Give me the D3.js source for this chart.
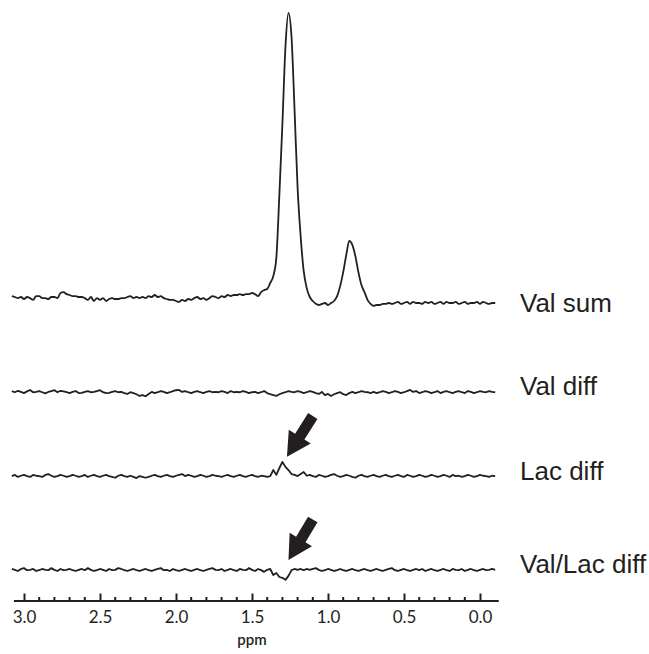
<!DOCTYPE html>
<html>
<head>
<meta charset="utf-8">
<script src="https://cdn.jsdelivr.net/npm/d3@7/dist/d3.min.js"></script>
<style>
  html, body { margin: 0; padding: 0; background: #fff; }
  svg { display: block; }
</style>
</head>
<body>
<script>
// ---------------- DATA ----------------
// chemical-shift grid (ppm): from 3.08 down to -0.10 in 0.02 ppm steps
const ppmStart = 3.08;
const ppmStep = 0.02;

// intensities (normalised so that the Val sum maximum = 100)
const valSum = [
  1.0, 0.7, 0.3, 0.7, 0.0, 0.7, 0.3, -0.3, 1.0, 1.0,
  0.3, 0.3, 0.0, 0.7, 0.7, 0.3, 2.1, 2.4, 1.7, 1.4,
  1.0, 1.0, 0.7, 0.7, 0.3, -0.3, 0.7, -0.7, 0.3, -0.3,
  0.3, -0.7, 0.0, 0.3, 0.0, 0.0, 0.3, 0.3, 0.7, 1.0,
  0.3, 0.7, 0.3, 0.7, 0.3, 1.0, 0.7, 1.4, 0.7, 1.0,
  0.3, 0.0, -0.3, -0.3, -0.7, -1.0, -0.3, -0.7, 0.0, -0.3,
  0.3, 0.7, 0.0, 0.3, -0.3, 0.3, 1.0, 0.7, 0.3, 1.0,
  0.7, 1.4, 1.0, 1.4, 1.4, 1.7, 1.4, 1.7, 1.7, 2.1,
  1.7, 1.0, 2.4, 3.1, 3.5, 5.6, 8.0, 14.3, 36.4, 61.2,
  88.1, 100, 91.6, 66.1, 38.8, 22.0, 9.8, 3.8, 0.7, -0.7,
  -1.7, -2.1, -1.7, -1.4, -2.1, -1.4, -0.7, 1.0, 4.5, 9.4,
  15.4, 20.3, 18.9, 15.0, 9.4, 4.9, 2.4, -0.3, -1.7, -2.4,
  -2.1, -2.1, -1.7, -1.7, -1.4, -1.7, -1.4, -1.0, -1.7, -1.4,
  -1.0, -1.7, -1.0, -1.4, -1.4, -1.7, -1.0, -1.4, -1.0, -1.7,
  -1.4, -1.0, -1.7, -1.0, -1.4, -1.4, -1.0, -1.7, -1.4, -1.0,
  -1.7, -1.4, -1.4, -1.0, -1.7, -1.0, -1.4, -1.7, -1.4, -1.4
];
const valDiff = [
  0.7, 0.3, 0.8, 0.4, 0.0, 0.6, 1.1, 0.3, 0.4, 0.7, 0.3, -0.1, 0.4, 0.7, 1.0, 0.3, 0.8, 0.6, 0.3, 0.0,
  0.4, 0.7, 0.0, 0.1, 0.4, 0.7, 0.3, 0.4, 0.7, 1.0, 0.3, 0.0, 0.1, 0.4, 0.7, 0.3, 0.4, 0.0, -0.3, 0.3,
  0.0, -0.4, -1.0, -0.7, -1.1, -0.3, 0.4, 0.0, 0.3, 0.7, 0.4, 0.0, 0.3, 0.7, 1.0, 1.1, 0.4, 0.7, 0.3, 0.0,
  0.4, 0.7, 0.3, 0.0, 0.4, 0.7, 0.3, 0.4, 0.3, 0.7, 0.4, 0.0, 0.7, 0.3, 0.4, 0.3, 0.7, 0.4, 0.0, 0.3,
  0.4, 0.0, 0.3, 0.7, 0.0, -0.4, -0.7, -1.0, -0.4, 0.0, 0.3, 0.7, 0.4, 0.3, 0.7, 0.4, 0.0, 0.3, 0.7, 0.4,
  0.0, -0.3, 0.4, -0.7, -0.3, -1.0, -0.4, 0.0, 0.3, -0.4, -0.7, 0.0, 0.4, 0.0, 0.3, 0.7, 0.4, 0.3, 0.0, 0.4,
  0.0, 0.3, 0.7, 0.4, 0.0, 0.3, 0.7, 0.4, 0.0, 0.3, 0.7, 1.1, 0.4, 0.7, 0.0, 0.3, 0.7, 0.4, 0.0, 0.3,
  0.7, 0.0, 0.4, 0.7, 0.3, 0.0, 0.4, 0.7, 0.3, 0.0, 0.7, 0.4, 0.0, 0.3, 0.7, 0.4, 0.3, 0.7, 0.4, 0.3
];
const lacDiff = [
  0.3, 0.7, 0.0, 0.4, 0.7, 0.3, 0.0, 0.7, 0.4, 0.3, 0.0, 0.7, 1.0, 0.4, 0.0, 0.3, 0.7, 0.4, 0.0, 0.3,
  0.7, 0.4, 0.0, 0.3, 0.7, 0.0, 0.4, 0.7, 0.3, 0.0, 0.4, 0.7, 0.3, 0.0, -0.3, 0.4, 0.7, 0.3, 0.0, 0.4,
  0.0, -0.4, 0.3, 0.0, -0.3, 0.0, 0.4, 0.7, 0.3, 0.0, 0.4, 0.7, 0.3, 0.0, 0.4, 0.7, 1.0, 0.3, 0.7, 0.4,
  0.0, 0.3, 0.7, 0.4, 0.0, 0.3, 0.7, 0.4, 0.3, 0.0, 0.4, 0.7, 0.3, 0.0, 0.4, 0.7, 0.3, 0.0, 0.4, 0.7,
  0.3, 0.0, 0.4, 0.3, 0.0,
  0.3, 2.4, 0.7, 3.1, 5.2, 3.5, 2.4, 1.0, 0.7, 0.3, 1.0, 1.7, 0.4,
  0.7, 0.3, 0.0, 0.7, 0.4, 0.0, 0.3, 0.7, 1.0, 0.4, 0.0, 0.3, 0.7, 0.4, 0.0, -0.3, 0.4, 0.7, 0.3, 0.0, 0.4, 0.7,
  0.3, 0.0, 0.4, 0.7, 0.3, 0.0, 0.4, 0.7, 0.3, 0.0, 0.7, 0.4, 0.0, 0.3, 0.7, 0.4, 0.0, 0.3, 0.7, 0.4,
  0.0, 0.3, 0.7, 0.4, 0.0, 0.7, 0.3, 0.4, 0.0, 0.3, 0.7, 0.4, 0.0, 0.3, 0.7, 0.4, 0.3, 0.0, 0.4, 0.3
];
const valLacDiff = [
  0.7, 0.4, 0.0, 0.7, 1.0, 0.3, 0.4, 0.7, 0.0, 0.3, 0.7, 0.4, 0.3, 1.0, 0.4, 0.0, 0.7, 0.3, 0.4, 0.7,
  0.3, 0.0, 0.4, 0.7, 0.3, 1.0, 0.4, 0.0, 0.3, 0.7, 0.4, 0.0, 0.7, 0.3, 0.4, 1.0, 0.7, 0.3, 0.0, 0.4,
  0.7, 0.3, 0.0, 0.4, 0.7, 0.3, 0.0, 0.4, 0.7, 1.0, 0.3, 0.4, 0.0, 0.7, 0.3, 0.0, 0.4, 0.7, 0.3, 0.0,
  0.4, 0.7, 0.3, 0.0, 0.4, 0.7, 1.0, 0.4, 0.3, 0.7, 0.0, 0.4, 0.7, 0.3, 0.0, 0.7, 0.4, 0.3, 1.0, 0.4,
  0.0, 0.7, 0.3, -0.3, 0.4,
  0.7, -1.4, -0.7, -2.1, -2.4, -3.1, -1.7, 0.3, 0.7, 0.4, 0.7, 0.3, 0.7, 0.4, 0.7, 1.0, 0.4,
  0.0, 0.3, 0.7, 0.4, 0.0, 0.3, 0.7, 0.3, 0.0, 0.4, 0.7, 0.3, 0.0, 0.4, 0.7, 0.3, 0.0, 0.4,
  0.7, 0.3, 0.0, 0.4, 0.7, 1.0, 0.3, 0.0, 0.4, 0.7, 0.3, 0.0, 0.4, 0.7, 0.3, 0.7, 0.0, 0.4, 0.7, 0.3,
  0.0, 0.4, 0.7, 0.3, 0.0, 0.7, 0.4, 0.3, 0.7, 0.0, 0.4, 0.7, 0.3, 0.0, 0.4, 0.7, 0.3, 0.4, 0.7, 0.4
];

const seriesNames = ["Val sum", "Val diff", "Lac diff", "Val/Lac diff"];
const seriesValues = [valSum, valDiff, lacDiff, valLacDiff];
const seriesOffsets = [0, -32.9, -62.2, -95.1];   // vertical stacking offsets (intensity units)

// arrows (annotations) in data coordinates
const arrowSeries = ["Lac diff", "Val/Lac diff"];
const arrowTipPpm = [1.27, 1.26];
const arrowTipVal = [-55.2, -91.3];
const arrowTailPpm = [1.10, 1.10];
const arrowTailVal = [-40.9, -77.1];

// axis
const axisPpmExtent = [3.07, -0.12];
const majorTicks = [3.0, 2.5, 2.0, 1.5, 1.0, 0.5, 0.0];
const tickLabels = ["3.0", "2.5", "2.0", "1.5", "1.0", "0.5", "0.0"];
const minorTicks = d3.range(30, -1, -1).map(i => i / 10).filter(v => Math.abs(v * 2 - Math.round(v * 2)) > 1e-6);
const axisTitle = "ppm";

// ---------------- LAYOUT ----------------
const W = 649, H = 654;
const axisY = 600.5;
const labelX = 520;
const labelDy = [13, 2, 3, 2];

const svg = d3.select("body").append("svg")
  .attr("width", W).attr("height", H)
  .attr("viewBox", `0 0 ${W} ${H}`);
svg.append("rect").attr("width", W).attr("height", H).attr("fill", "#fff");

const x = d3.scaleLinear()
  .domain(axisPpmExtent)
  .range([24 + (3.0 - axisPpmExtent[0]) * 152, 24 + (3.0 - axisPpmExtent[1]) * 152]);
const y = d3.scaleLinear().domain([0, 100]).range([299, 13]);

const ink = "#231f20";

// traces
seriesValues.forEach((vals, si) => {
  const pts = vals.map((v, k) => [ppmStart - k * ppmStep, v + seriesOffsets[si]]);
  const line = d3.line()
    .x(d => x(d[0]))
    .y(d => y(d[1]))
    .curve(si === 0 ? d3.curveMonotoneX : d3.curveLinear);
  svg.append("path")
    .datum(pts)
    .attr("d", line)
    .attr("fill", "none")
    .attr("stroke", ink)
    .attr("stroke-width", 1.8)
    .attr("stroke-linejoin", "round");

  svg.append("text")
    .attr("x", labelX)
    .attr("y", y(seriesOffsets[si]) + labelDy[si])
    .attr("font-family", "'Liberation Sans', Arial, sans-serif")
    .attr("font-size", 26)
    .attr("fill", ink)
    .text(seriesNames[si]);
});

// arrows
const shaftW = 11, headW = 26, headL = 24;
arrowTipPpm.forEach((tp, i) => {
  const T = [x(tp), y(arrowTipVal[i])];
  const S = [x(arrowTailPpm[i]), y(arrowTailVal[i])];
  const dx = T[0] - S[0], dy = T[1] - S[1];
  const len = Math.hypot(dx, dy);
  const u = [dx / len, dy / len];
  const n = [-u[1], u[0]];
  const B = [T[0] - u[0] * headL, T[1] - u[1] * headL];
  const p = (P, s) => [P[0] + n[0] * s, P[1] + n[1] * s];
  const poly = [p(S, shaftW / 2), p(B, shaftW / 2), p(B, headW / 2), T,
                p(B, -headW / 2), p(B, -shaftW / 2), p(S, -shaftW / 2)];
  svg.append("path")
    .attr("d", "M" + poly.map(q => q.join(",")).join("L") + "Z")
    .attr("fill", ink);
});

// axis
const axisG = svg.append("g").attr("transform", `translate(0,${axisY})`);
const axis = d3.axisBottom(x)
  .tickValues(majorTicks)
  .tickFormat((d, i) => tickLabels[i])
  .tickSizeInner(-7)
  .tickSizeOuter(0)
  .tickPadding(10);
axisG.call(axis);
axisG.select(".domain").attr("stroke", ink).attr("stroke-width", 2);
axisG.selectAll(".tick line").attr("stroke", ink).attr("stroke-width", 2);
axisG.selectAll(".tick text")
  .attr("fill", ink)
  .attr("font-family", "Lato, 'DejaVu Sans', sans-serif")
  .attr("font-size", 17);

axisG.selectAll(".minor")
  .data(minorTicks)
  .enter().append("line")
  .attr("class", "minor")
  .attr("x1", d => x(d)).attr("x2", d => x(d))
  .attr("y1", 0).attr("y2", -3.5)
  .attr("stroke", ink).attr("stroke-width", 2);

svg.append("text")
  .attr("x", x(1.5))
  .attr("y", 645)
  .attr("text-anchor", "middle")
  .attr("font-family", "Lato, 'DejaVu Sans', sans-serif")
  .attr("font-weight", 600)
  .attr("font-size", 15)
  .attr("fill", ink)
  .text(axisTitle);
</script>
</body>
</html>
